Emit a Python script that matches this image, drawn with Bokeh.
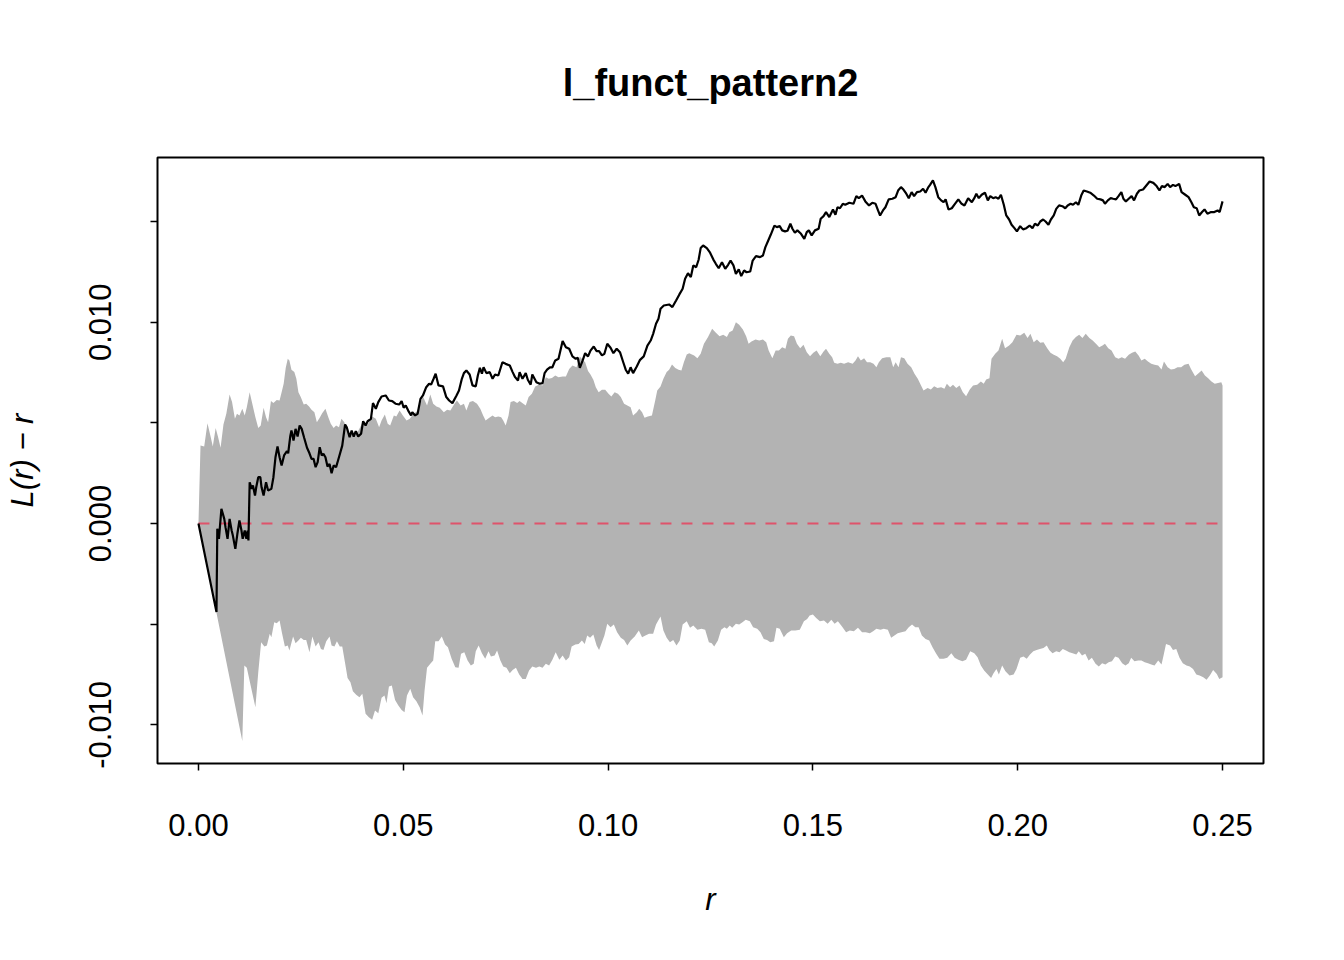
from bokeh.plotting import figure
from bokeh.models import FixedTicker, Range1d
from bokeh.embed import file_html
from bokeh.resources import INLINE

TITLE = "l_funct_pattern2"
X_LABEL = "r"
Y_LABEL = "L(r) \u2212 r"

# observed L(r) - r
line_r = [
    0.0000, 0.0044, 0.0046, 0.0050, 0.0056, 0.0063, 0.0066, 0.0071, 0.0076, 0.0081,
    0.0084, 0.0090, 0.0095, 0.0100, 0.0105, 0.0108, 0.0113, 0.0117, 0.0120, 0.0122,
    0.0125, 0.0130, 0.0133, 0.0138, 0.0141, 0.0146, 0.0151, 0.0154, 0.0159, 0.0165,
    0.0170, 0.0178, 0.0183, 0.0188, 0.0193, 0.0198, 0.0203, 0.0209, 0.0216, 0.0219,
    0.0224, 0.0227, 0.0232, 0.0237, 0.0242, 0.0247, 0.0252, 0.0258, 0.0265, 0.0271,
    0.0276, 0.0281, 0.0286, 0.0291, 0.0296, 0.0301, 0.0305, 0.0310, 0.0315, 0.0320,
    0.0325, 0.0330, 0.0336, 0.0343, 0.0351, 0.0358, 0.0362, 0.0369, 0.0374, 0.0379,
    0.0384, 0.0390, 0.0397, 0.0402, 0.0408, 0.0413, 0.0421, 0.0426, 0.0433, 0.0439,
    0.0447, 0.0457, 0.0465, 0.0473, 0.0481, 0.0490, 0.0496, 0.0501, 0.0506, 0.0512,
    0.0519, 0.0522, 0.0529, 0.0535, 0.0542, 0.0548, 0.0556, 0.0563, 0.0568, 0.0574,
    0.0579, 0.0586, 0.0597, 0.0605, 0.0612, 0.0620, 0.0630, 0.0636, 0.0643, 0.0648,
    0.0654, 0.0662, 0.0669, 0.0677, 0.0682, 0.0687, 0.0692, 0.0696, 0.0703, 0.0711,
    0.0718, 0.0724, 0.0732, 0.0742, 0.0750, 0.0760, 0.0767, 0.0773, 0.0780, 0.0784,
    0.0791, 0.0799, 0.0804, 0.0811, 0.0815, 0.0825, 0.0833, 0.0840, 0.0845, 0.0851,
    0.0858, 0.0864, 0.0871, 0.0879, 0.0889, 0.0897, 0.0905, 0.0913, 0.0921, 0.0926,
    0.0931, 0.0938, 0.0944, 0.0951, 0.0957, 0.0965, 0.0972, 0.0978, 0.0985, 0.0991,
    0.0998, 0.1006, 0.1013, 0.1021, 0.1029, 0.1037, 0.1043, 0.1049, 0.1055, 0.1061,
    0.1070, 0.1078, 0.1087, 0.1096, 0.1104, 0.1110, 0.1117, 0.1123, 0.1128, 0.1136,
    0.1149, 0.1157, 0.1166, 0.1174, 0.1182, 0.1188, 0.1195, 0.1202, 0.1208, 0.1215,
    0.1221, 0.1226, 0.1232, 0.1241, 0.1249, 0.1257, 0.1263, 0.1270, 0.1278, 0.1286,
    0.1293, 0.1299, 0.1306, 0.1312, 0.1319, 0.1325, 0.1332, 0.1338, 0.1347, 0.1353,
    0.1361, 0.1371, 0.1378, 0.1384, 0.1391, 0.1397, 0.1406, 0.1412, 0.1419, 0.1425,
    0.1432, 0.1438, 0.1445, 0.1450, 0.1456, 0.1462, 0.1471, 0.1479, 0.1485, 0.1490,
    0.1497, 0.1505, 0.1514, 0.1519, 0.1526, 0.1532, 0.1540, 0.1549, 0.1555, 0.1560,
    0.1566, 0.1573, 0.1579, 0.1589, 0.1599, 0.1606, 0.1612, 0.1620, 0.1628, 0.1637,
    0.1645, 0.1653, 0.1659, 0.1664, 0.1671, 0.1677, 0.1685, 0.1694, 0.1702, 0.1708,
    0.1715, 0.1721, 0.1728, 0.1734, 0.1741, 0.1747, 0.1754, 0.1762, 0.1769, 0.1775,
    0.1782, 0.1786, 0.1793, 0.1799, 0.1806, 0.1813, 0.1819, 0.1824, 0.1831, 0.1839,
    0.1845, 0.1855, 0.1863, 0.1870, 0.1879, 0.1888, 0.1894, 0.1899, 0.1905, 0.1912,
    0.1920, 0.1927, 0.1933, 0.1940, 0.1946, 0.1953, 0.1959, 0.1966, 0.1972, 0.1979,
    0.1985, 0.1992, 0.1998, 0.2006, 0.2013, 0.2021, 0.2029, 0.2036, 0.2042, 0.2049,
    0.2055, 0.2062, 0.2068, 0.2075, 0.2081, 0.2088, 0.2094, 0.2101, 0.2109, 0.2116,
    0.2122, 0.2129, 0.2135, 0.2142, 0.2148, 0.2155, 0.2161, 0.2169, 0.2177, 0.2186,
    0.2194, 0.2202, 0.2208, 0.2213, 0.2220, 0.2227, 0.2233, 0.2240, 0.2246, 0.2253,
    0.2258, 0.2264, 0.2271, 0.2278, 0.2284, 0.2291, 0.2297, 0.2306, 0.2314, 0.2322,
    0.2331, 0.2339, 0.2346, 0.2352, 0.2359, 0.2366, 0.2372, 0.2379, 0.2385, 0.2394,
    0.2400, 0.2409, 0.2417, 0.2424, 0.2430, 0.2437, 0.2443, 0.2450, 0.2456, 0.2463,
    0.2472, 0.2480, 0.2488, 0.2493, 0.2500,
]
line_v = [
    0.00000, -0.00440, -0.00026, -0.00076, 0.00073, 0.00023, -0.00018, -0.00076, 0.00023, -0.00035,
    -0.00060, -0.00126, -0.00051, 0.00015, -0.00035, -0.00076, -0.00035, -0.00076, -0.00035, -0.00084,
    0.00205, 0.00172, 0.00189, 0.00139, 0.00180, 0.00230, 0.00230, 0.00180, 0.00139, 0.00205,
    0.00164, 0.00172, 0.00230, 0.00329, 0.00383, 0.00329, 0.00288, 0.00338, 0.00359, 0.00349,
    0.00432, 0.00462, 0.00412, 0.00470, 0.00432, 0.00487, 0.00470, 0.00426, 0.00376, 0.00349,
    0.00321, 0.00321, 0.00280, 0.00305, 0.00379, 0.00338, 0.00346, 0.00329, 0.00283, 0.00296,
    0.00250, 0.00288, 0.00280, 0.00329, 0.00387, 0.00492, 0.00478, 0.00429, 0.00462, 0.00432,
    0.00459, 0.00432, 0.00446, 0.00508, 0.00487, 0.00508, 0.00520, 0.00598, 0.00570, 0.00603,
    0.00631, 0.00636, 0.00611, 0.00608, 0.00595, 0.00591, 0.00608, 0.00575, 0.00586, 0.00561,
    0.00537, 0.00553, 0.00537, 0.00545, 0.00619, 0.00636, 0.00677, 0.00694, 0.00690, 0.00719,
    0.00744, 0.00686, 0.00681, 0.00628, 0.00611, 0.00598, 0.00636, 0.00661, 0.00719, 0.00747,
    0.00760, 0.00740, 0.00686, 0.00681, 0.00735, 0.00773, 0.00744, 0.00776, 0.00747, 0.00752,
    0.00719, 0.00740, 0.00735, 0.00801, 0.00793, 0.00785, 0.00752, 0.00727, 0.00710, 0.00752,
    0.00719, 0.00747, 0.00714, 0.00690, 0.00740, 0.00702, 0.00694, 0.00697, 0.00747, 0.00764,
    0.00776, 0.00776, 0.00810, 0.00818, 0.00906, 0.00876, 0.00868, 0.00830, 0.00818, 0.00823,
    0.00773, 0.00810, 0.00846, 0.00830, 0.00859, 0.00879, 0.00856, 0.00856, 0.00835, 0.00843,
    0.00893, 0.00873, 0.00846, 0.00868, 0.00851, 0.00801, 0.00764, 0.00744, 0.00776, 0.00747,
    0.00780, 0.00813, 0.00830, 0.00884, 0.00909, 0.00942, 0.00992, 0.01017, 0.01067, 0.01083,
    0.01088, 0.01075, 0.01108, 0.01138, 0.01166, 0.01216, 0.01243, 0.01224, 0.01282, 0.01273,
    0.01310, 0.01368, 0.01381, 0.01368, 0.01345, 0.01311, 0.01290, 0.01268, 0.01298, 0.01265,
    0.01285, 0.01306, 0.01282, 0.01240, 0.01262, 0.01229, 0.01257, 0.01248, 0.01252, 0.01306,
    0.01328, 0.01323, 0.01331, 0.01373, 0.01406, 0.01434, 0.01480, 0.01472, 0.01477, 0.01456,
    0.01451, 0.01454, 0.01489, 0.01464, 0.01444, 0.01456, 0.01439, 0.01414, 0.01447, 0.01456,
    0.01431, 0.01456, 0.01464, 0.01514, 0.01527, 0.01547, 0.01522, 0.01560, 0.01534, 0.01571,
    0.01566, 0.01588, 0.01583, 0.01593, 0.01588, 0.01626, 0.01616, 0.01629, 0.01600, 0.01580,
    0.01593, 0.01588, 0.01555, 0.01530, 0.01555, 0.01571, 0.01610, 0.01613, 0.01621, 0.01654,
    0.01671, 0.01659, 0.01638, 0.01616, 0.01646, 0.01626, 0.01646, 0.01649, 0.01663, 0.01643,
    0.01671, 0.01682, 0.01704, 0.01671, 0.01621, 0.01605, 0.01596, 0.01610, 0.01560, 0.01566,
    0.01583, 0.01610, 0.01588, 0.01580, 0.01616, 0.01596, 0.01616, 0.01638, 0.01616, 0.01633,
    0.01643, 0.01605, 0.01626, 0.01616, 0.01621, 0.01613, 0.01633, 0.01583, 0.01530, 0.01510,
    0.01484, 0.01467, 0.01451, 0.01477, 0.01461, 0.01467, 0.01480, 0.01467, 0.01489, 0.01480,
    0.01500, 0.01510, 0.01500, 0.01484, 0.01510, 0.01530, 0.01563, 0.01580, 0.01576, 0.01566,
    0.01580, 0.01588, 0.01583, 0.01596, 0.01583, 0.01629, 0.01654, 0.01649, 0.01643, 0.01629,
    0.01613, 0.01610, 0.01605, 0.01588, 0.01605, 0.01616, 0.01613, 0.01610, 0.01626, 0.01646,
    0.01613, 0.01600, 0.01613, 0.01626, 0.01605, 0.01638, 0.01654, 0.01659, 0.01679, 0.01699,
    0.01692, 0.01676, 0.01654, 0.01676, 0.01671, 0.01687, 0.01671, 0.01682, 0.01676, 0.01687,
    0.01646, 0.01633, 0.01621, 0.01596, 0.01571, 0.01566, 0.01530, 0.01547, 0.01560, 0.01539,
    0.01547, 0.01547, 0.01555, 0.01547, 0.01600,
]

# upper envelope (hi)
hi_r = [
    0.0000, 0.0005, 0.0014, 0.0022, 0.0030, 0.0035, 0.0042, 0.0048, 0.0054, 0.0061,
    0.0068, 0.0076, 0.0082, 0.0089, 0.0094, 0.0100, 0.0107, 0.0113, 0.0118, 0.0125,
    0.0131, 0.0139, 0.0146, 0.0152, 0.0159, 0.0165, 0.0170, 0.0177, 0.0183, 0.0191,
    0.0198, 0.0203, 0.0208, 0.0213, 0.0218, 0.0222, 0.0227, 0.0234, 0.0239, 0.0244,
    0.0250, 0.0257, 0.0263, 0.0270, 0.0276, 0.0283, 0.0289, 0.0296, 0.0302, 0.0310,
    0.0317, 0.0323, 0.0330, 0.0336, 0.0343, 0.0349, 0.0356, 0.0366, 0.0377, 0.0390,
    0.0402, 0.0413, 0.0424, 0.0433, 0.0441, 0.0447, 0.0455, 0.0462, 0.0468, 0.0477,
    0.0483, 0.0491, 0.0499, 0.0508, 0.0516, 0.0525, 0.0534, 0.0540, 0.0548, 0.0558,
    0.0566, 0.0573, 0.0581, 0.0589, 0.0599, 0.0607, 0.0615, 0.0625, 0.0631, 0.0640,
    0.0648, 0.0654, 0.0662, 0.0670, 0.0680, 0.0688, 0.0695, 0.0701, 0.0710, 0.0718,
    0.0724, 0.0732, 0.0739, 0.0744, 0.0750, 0.0757, 0.0762, 0.0770, 0.0778, 0.0784,
    0.0793, 0.0799, 0.0806, 0.0814, 0.0822, 0.0832, 0.0840, 0.0848, 0.0855, 0.0863,
    0.0871, 0.0879, 0.0889, 0.0897, 0.0905, 0.0913, 0.0923, 0.0931, 0.0938, 0.0944,
    0.0951, 0.0957, 0.0964, 0.0970, 0.0977, 0.0985, 0.0993, 0.1001, 0.1008, 0.1016,
    0.1024, 0.1031, 0.1039, 0.1047, 0.1055, 0.1061, 0.1070, 0.1076, 0.1083, 0.1089,
    0.1097, 0.1107, 0.1115, 0.1120, 0.1128, 0.1135, 0.1143, 0.1149, 0.1156, 0.1164,
    0.1172, 0.1179, 0.1185, 0.1192, 0.1198, 0.1210, 0.1218, 0.1226, 0.1234, 0.1244,
    0.1254, 0.1262, 0.1272, 0.1281, 0.1290, 0.1296, 0.1304, 0.1312, 0.1320, 0.1329,
    0.1337, 0.1343, 0.1350, 0.1360, 0.1369, 0.1378, 0.1386, 0.1392, 0.1401, 0.1409,
    0.1417, 0.1425, 0.1433, 0.1439, 0.1446, 0.1454, 0.1461, 0.1469, 0.1477, 0.1485,
    0.1493, 0.1501, 0.1509, 0.1518, 0.1526, 0.1532, 0.1540, 0.1547, 0.1552, 0.1560,
    0.1568, 0.1576, 0.1586, 0.1597, 0.1604, 0.1610, 0.1617, 0.1625, 0.1632, 0.1640,
    0.1648, 0.1655, 0.1661, 0.1669, 0.1679, 0.1689, 0.1696, 0.1702, 0.1709, 0.1715,
    0.1723, 0.1731, 0.1740, 0.1748, 0.1756, 0.1764, 0.1770, 0.1780, 0.1788, 0.1796,
    0.1804, 0.1813, 0.1821, 0.1827, 0.1835, 0.1842, 0.1850, 0.1858, 0.1866, 0.1874,
    0.1883, 0.1891, 0.1901, 0.1910, 0.1917, 0.1923, 0.1931, 0.1936, 0.1945, 0.1953,
    0.1962, 0.1969, 0.1979, 0.1987, 0.1997, 0.2006, 0.2016, 0.2024, 0.2031, 0.2039,
    0.2047, 0.2055, 0.2063, 0.2072, 0.2080, 0.2088, 0.2096, 0.2104, 0.2111, 0.2117,
    0.2126, 0.2134, 0.2142, 0.2150, 0.2158, 0.2166, 0.2175, 0.2183, 0.2191, 0.2199,
    0.2207, 0.2213, 0.2221, 0.2229, 0.2238, 0.2246, 0.2254, 0.2262, 0.2271, 0.2279,
    0.2287, 0.2295, 0.2302, 0.2310, 0.2318, 0.2326, 0.2334, 0.2343, 0.2351, 0.2357,
    0.2366, 0.2374, 0.2382, 0.2390, 0.2399, 0.2407, 0.2417, 0.2423, 0.2433, 0.2440,
    0.2449, 0.2457, 0.2465, 0.2473, 0.2481, 0.2489, 0.2497, 0.2500,
]
hi_v = [
    0.00000, 0.00387, 0.00383, 0.00498, 0.00429, 0.00383, 0.00475, 0.00429, 0.00376, 0.00492,
    0.00545, 0.00641, 0.00603, 0.00520, 0.00545, 0.00537, 0.00570, 0.00537, 0.00578, 0.00652,
    0.00598, 0.00528, 0.00475, 0.00487, 0.00575, 0.00528, 0.00503, 0.00608, 0.00598, 0.00614,
    0.00611, 0.00652, 0.00694, 0.00773, 0.00818, 0.00810, 0.00764, 0.00752, 0.00719, 0.00652,
    0.00627, 0.00591, 0.00595, 0.00581, 0.00565, 0.00553, 0.00503, 0.00525, 0.00548, 0.00570,
    0.00528, 0.00495, 0.00475, 0.00487, 0.00478, 0.00520, 0.00503, 0.00442, 0.00442, 0.00459,
    0.00508, 0.00492, 0.00532, 0.00520, 0.00478, 0.00512, 0.00541, 0.00495, 0.00487, 0.00537,
    0.00532, 0.00561, 0.00537, 0.00512, 0.00520, 0.00545, 0.00558, 0.00586, 0.00631, 0.00586,
    0.00641, 0.00595, 0.00581, 0.00575, 0.00553, 0.00565, 0.00561, 0.00595, 0.00611, 0.00586,
    0.00595, 0.00561, 0.00603, 0.00608, 0.00595, 0.00570, 0.00537, 0.00512, 0.00525, 0.00537,
    0.00528, 0.00532, 0.00528, 0.00512, 0.00487, 0.00537, 0.00603, 0.00608, 0.00598, 0.00608,
    0.00595, 0.00586, 0.00628, 0.00644, 0.00681, 0.00690, 0.00686, 0.00727, 0.00719, 0.00723,
    0.00735, 0.00727, 0.00730, 0.00730, 0.00768, 0.00785, 0.00776, 0.00830, 0.00813, 0.00801,
    0.00757, 0.00740, 0.00714, 0.00677, 0.00652, 0.00664, 0.00664, 0.00644, 0.00631, 0.00652,
    0.00644, 0.00628, 0.00595, 0.00586, 0.00578, 0.00537, 0.00553, 0.00570, 0.00553, 0.00525,
    0.00532, 0.00537, 0.00611, 0.00661, 0.00681, 0.00719, 0.00752, 0.00764, 0.00790, 0.00773,
    0.00764, 0.00760, 0.00801, 0.00840, 0.00846, 0.00835, 0.00821, 0.00843, 0.00893, 0.00926,
    0.00967, 0.00950, 0.00930, 0.00937, 0.00926, 0.00950, 0.00959, 0.01000, 0.00987, 0.00964,
    0.00930, 0.00893, 0.00904, 0.00914, 0.00909, 0.00914, 0.00900, 0.00859, 0.00821, 0.00859,
    0.00859, 0.00876, 0.00868, 0.00918, 0.00934, 0.00930, 0.00893, 0.00871, 0.00888, 0.00851,
    0.00831, 0.00848, 0.00859, 0.00831, 0.00854, 0.00868, 0.00843, 0.00826, 0.00798, 0.00793,
    0.00798, 0.00793, 0.00801, 0.00793, 0.00810, 0.00831, 0.00810, 0.00821, 0.00801, 0.00801,
    0.00793, 0.00776, 0.00801, 0.00821, 0.00826, 0.00826, 0.00776, 0.00801, 0.00776, 0.00826,
    0.00821, 0.00793, 0.00776, 0.00744, 0.00719, 0.00686, 0.00661, 0.00673, 0.00666, 0.00682,
    0.00673, 0.00677, 0.00669, 0.00694, 0.00677, 0.00689, 0.00673, 0.00686, 0.00652, 0.00632,
    0.00666, 0.00686, 0.00689, 0.00705, 0.00694, 0.00715, 0.00722, 0.00818, 0.00843, 0.00859,
    0.00918, 0.00871, 0.00884, 0.00900, 0.00937, 0.00934, 0.00947, 0.00922, 0.00942, 0.00900,
    0.00914, 0.00898, 0.00900, 0.00871, 0.00848, 0.00838, 0.00831, 0.00818, 0.00801, 0.00818,
    0.00876, 0.00909, 0.00926, 0.00937, 0.00922, 0.00942, 0.00922, 0.00909, 0.00893, 0.00876,
    0.00884, 0.00893, 0.00871, 0.00859, 0.00826, 0.00818, 0.00826, 0.00818, 0.00838, 0.00848,
    0.00854, 0.00835, 0.00810, 0.00818, 0.00805, 0.00793, 0.00788, 0.00785, 0.00765, 0.00805,
    0.00776, 0.00765, 0.00768, 0.00776, 0.00776, 0.00788, 0.00793, 0.00768, 0.00732, 0.00744,
    0.00760, 0.00735, 0.00722, 0.00705, 0.00694, 0.00698, 0.00702, 0.00686,
]

# lower envelope (lo)
lo_r = [
    0.0000, 0.0107, 0.0112, 0.0118, 0.0139, 0.0146, 0.0153, 0.0161, 0.0167, 0.0174,
    0.0178, 0.0185, 0.0191, 0.0198, 0.0204, 0.0211, 0.0218, 0.0222, 0.0231, 0.0237,
    0.0244, 0.0250, 0.0257, 0.0263, 0.0271, 0.0278, 0.0286, 0.0293, 0.0299, 0.0305,
    0.0312, 0.0320, 0.0325, 0.0332, 0.0338, 0.0345, 0.0351, 0.0358, 0.0364, 0.0371,
    0.0377, 0.0385, 0.0393, 0.0400, 0.0408, 0.0416, 0.0424, 0.0431, 0.0439, 0.0447,
    0.0454, 0.0459, 0.0465, 0.0472, 0.0480, 0.0488, 0.0496, 0.0503, 0.0509, 0.0517,
    0.0524, 0.0532, 0.0540, 0.0547, 0.0552, 0.0558, 0.0566, 0.0573, 0.0578, 0.0586,
    0.0594, 0.0602, 0.0609, 0.0618, 0.0627, 0.0635, 0.0641, 0.0649, 0.0657, 0.0665,
    0.0672, 0.0677, 0.0684, 0.0692, 0.0700, 0.0708, 0.0714, 0.0723, 0.0729, 0.0737,
    0.0744, 0.0752, 0.0760, 0.0767, 0.0775, 0.0783, 0.0791, 0.0799, 0.0807, 0.0815,
    0.0824, 0.0832, 0.0840, 0.0848, 0.0856, 0.0864, 0.0872, 0.0881, 0.0889, 0.0897,
    0.0905, 0.0911, 0.0920, 0.0928, 0.0936, 0.0943, 0.0949, 0.0956, 0.0964, 0.0972,
    0.0978, 0.0985, 0.0991, 0.0998, 0.1006, 0.1014, 0.1022, 0.1031, 0.1039, 0.1047,
    0.1055, 0.1065, 0.1075, 0.1083, 0.1091, 0.1100, 0.1110, 0.1117, 0.1128, 0.1135,
    0.1143, 0.1151, 0.1159, 0.1167, 0.1175, 0.1182, 0.1192, 0.1200, 0.1208, 0.1218,
    0.1228, 0.1237, 0.1246, 0.1253, 0.1259, 0.1268, 0.1276, 0.1284, 0.1290, 0.1297,
    0.1303, 0.1312, 0.1320, 0.1328, 0.1336, 0.1346, 0.1354, 0.1364, 0.1372, 0.1380,
    0.1388, 0.1396, 0.1405, 0.1411, 0.1419, 0.1429, 0.1437, 0.1447, 0.1457, 0.1468,
    0.1478, 0.1486, 0.1492, 0.1500, 0.1508, 0.1517, 0.1527, 0.1536, 0.1545, 0.1553,
    0.1561, 0.1571, 0.1581, 0.1590, 0.1600, 0.1610, 0.1620, 0.1629, 0.1639, 0.1647,
    0.1655, 0.1665, 0.1673, 0.1683, 0.1691, 0.1699, 0.1707, 0.1716, 0.1726, 0.1734,
    0.1742, 0.1750, 0.1758, 0.1766, 0.1775, 0.1784, 0.1792, 0.1801, 0.1809, 0.1819,
    0.1828, 0.1838, 0.1846, 0.1855, 0.1865, 0.1874, 0.1884, 0.1894, 0.1902, 0.1910,
    0.1918, 0.1927, 0.1935, 0.1941, 0.1948, 0.1954, 0.1962, 0.1970, 0.1980, 0.1990,
    0.1997, 0.2006, 0.2014, 0.2022, 0.2030, 0.2038, 0.2046, 0.2054, 0.2063, 0.2071,
    0.2077, 0.2085, 0.2094, 0.2102, 0.2110, 0.2118, 0.2126, 0.2134, 0.2143, 0.2149,
    0.2157, 0.2165, 0.2173, 0.2181, 0.2190, 0.2198, 0.2206, 0.2214, 0.2222, 0.2230,
    0.2238, 0.2246, 0.2255, 0.2263, 0.2271, 0.2277, 0.2285, 0.2294, 0.2302, 0.2310,
    0.2318, 0.2326, 0.2334, 0.2343, 0.2351, 0.2356, 0.2362, 0.2372, 0.2379, 0.2387,
    0.2395, 0.2403, 0.2412, 0.2420, 0.2428, 0.2436, 0.2444, 0.2453, 0.2461, 0.2469,
    0.2477, 0.2486, 0.2492, 0.2500,
]
lo_v = [
    0.00000, -0.01080, -0.00705, -0.00717, -0.00913, -0.00739, -0.00590, -0.00611, -0.00606, -0.00548,
    -0.00565, -0.00490, -0.00495, -0.00482, -0.00545, -0.00611, -0.00606, -0.00631, -0.00561, -0.00595,
    -0.00581, -0.00568, -0.00578, -0.00578, -0.00639, -0.00561, -0.00611, -0.00590, -0.00623, -0.00628,
    -0.00585, -0.00561, -0.00606, -0.00611, -0.00585, -0.00611, -0.00611, -0.00694, -0.00767, -0.00788,
    -0.00833, -0.00850, -0.00863, -0.00846, -0.00945, -0.00962, -0.00975, -0.00929, -0.00942, -0.00866,
    -0.00854, -0.00893, -0.00810, -0.00805, -0.00876, -0.00904, -0.00926, -0.00937, -0.00854, -0.00821,
    -0.00863, -0.00883, -0.00913, -0.00954, -0.00830, -0.00717, -0.00697, -0.00681, -0.00585, -0.00585,
    -0.00561, -0.00601, -0.00614, -0.00672, -0.00714, -0.00717, -0.00647, -0.00639, -0.00681, -0.00705,
    -0.00697, -0.00634, -0.00606, -0.00644, -0.00672, -0.00634, -0.00661, -0.00656, -0.00631, -0.00681,
    -0.00710, -0.00717, -0.00744, -0.00727, -0.00717, -0.00750, -0.00772, -0.00772, -0.00730, -0.00710,
    -0.00717, -0.00710, -0.00717, -0.00697, -0.00705, -0.00677, -0.00639, -0.00677, -0.00656, -0.00681,
    -0.00664, -0.00611, -0.00601, -0.00598, -0.00581, -0.00598, -0.00556, -0.00568, -0.00551, -0.00606,
    -0.00628, -0.00590, -0.00556, -0.00498, -0.00515, -0.00502, -0.00540, -0.00568, -0.00578, -0.00606,
    -0.00581, -0.00561, -0.00532, -0.00565, -0.00556, -0.00548, -0.00548, -0.00502, -0.00462, -0.00532,
    -0.00568, -0.00590, -0.00578, -0.00606, -0.00581, -0.00502, -0.00485, -0.00518, -0.00507, -0.00528,
    -0.00523, -0.00528, -0.00590, -0.00595, -0.00611, -0.00581, -0.00528, -0.00515, -0.00523, -0.00507,
    -0.00518, -0.00498, -0.00502, -0.00490, -0.00478, -0.00485, -0.00515, -0.00523, -0.00540, -0.00573,
    -0.00578, -0.00590, -0.00585, -0.00518, -0.00523, -0.00565, -0.00545, -0.00532, -0.00532, -0.00528,
    -0.00485, -0.00474, -0.00457, -0.00452, -0.00469, -0.00485, -0.00482, -0.00498, -0.00478, -0.00498,
    -0.00485, -0.00512, -0.00540, -0.00532, -0.00535, -0.00518, -0.00540, -0.00540, -0.00545, -0.00535,
    -0.00523, -0.00528, -0.00523, -0.00528, -0.00568, -0.00556, -0.00545, -0.00540, -0.00535, -0.00515,
    -0.00502, -0.00515, -0.00515, -0.00556, -0.00573, -0.00581, -0.00614, -0.00647, -0.00672, -0.00672,
    -0.00667, -0.00644, -0.00667, -0.00677, -0.00684, -0.00677, -0.00634, -0.00644, -0.00664, -0.00705,
    -0.00730, -0.00750, -0.00767, -0.00744, -0.00722, -0.00750, -0.00705, -0.00734, -0.00755, -0.00750,
    -0.00722, -0.00667, -0.00661, -0.00672, -0.00651, -0.00634, -0.00628, -0.00623, -0.00618, -0.00606,
    -0.00628, -0.00644, -0.00634, -0.00639, -0.00623, -0.00631, -0.00639, -0.00644, -0.00651, -0.00634,
    -0.00656, -0.00647, -0.00681, -0.00667, -0.00697, -0.00710, -0.00694, -0.00700, -0.00689, -0.00684,
    -0.00661, -0.00667, -0.00694, -0.00705, -0.00694, -0.00667, -0.00684, -0.00681, -0.00681, -0.00689,
    -0.00694, -0.00700, -0.00705, -0.00681, -0.00700, -0.00656, -0.00598, -0.00606, -0.00628, -0.00623,
    -0.00667, -0.00694, -0.00705, -0.00710, -0.00722, -0.00750, -0.00755, -0.00764, -0.00776, -0.00755,
    -0.00727, -0.00747, -0.00772, -0.00764,
]

# theoretical value (Poisson)
theo_r = [0.0, 0.25]
theo_v = [0.0, 0.0]

x_ticks = [0.0, 0.05, 0.10, 0.15, 0.20, 0.25]
x_tick_labels = ["0.00", "0.05", "0.10", "0.15", "0.20", "0.25"]
y_ticks = [-0.010, -0.005, 0.0, 0.005, 0.010, 0.015]
y_tick_labels = ["-0.010", "", "0.000", "", "0.010", ""]

FONT = "Liberation Sans"

p = figure(
    width=1328, height=944,
    x_range=Range1d(-0.01, 0.26), y_range=Range1d(-0.01192, 0.01818),
    output_backend="svg", toolbar_location=None,
    min_border_left=157, min_border_right=65,
    min_border_top=157, min_border_bottom=181,
    title=TITLE,
)
p.grid.visible = False
p.background_fill_color = "white"
p.border_fill_color = "white"
p.outline_line_color = "black"
p.outline_line_width = 2

p.title.align = "center"
p.title.text_font = FONT
p.title.text_font_size = "38px"
p.title.text_font_style = "bold"
p.title.text_color = "black"
p.title.standoff = 108

band_x = hi_r + lo_r[::-1]
band_y = hi_v + lo_v[::-1]
p.patch(band_x, band_y, fill_color="#B3B3B3", line_color=None)
p.line(theo_r, theo_v, line_color="#DF536B", line_width=2, line_dash="11 10")
p.line(line_r, line_v, line_color="black", line_width=2.2)

for ax in (p.xaxis[0], p.yaxis[0]):
    ax.axis_line_color = None
    ax.major_tick_in = 0
    ax.major_tick_out = 7
    ax.major_tick_line_width = 1.5
    ax.major_tick_line_color = "black"
    ax.minor_tick_line_color = None
    ax.major_label_text_font = FONT
    ax.major_label_text_font_size = "31px"
    ax.major_label_text_color = "black"
    ax.axis_label_text_font = FONT
    ax.axis_label_text_font_size = "31px"
    ax.axis_label_text_font_style = "italic"
    ax.axis_label_text_color = "black"

xa = p.xaxis[0]
xa.ticker = FixedTicker(ticks=x_ticks)
xa.major_label_overrides = {t: s for t, s in zip(x_ticks, x_tick_labels)}
xa.major_label_standoff = 43
xa.axis_label = X_LABEL
xa.axis_label_standoff = 43

ya = p.yaxis[0]
ya.ticker = FixedTicker(ticks=y_ticks)
ya.major_label_overrides = {t: s for t, s in zip(y_ticks, y_tick_labels)}
ya.major_label_orientation = "vertical"
ya.major_label_standoff = 39
ya.axis_label = Y_LABEL
ya.axis_label_standoff = 47

open("out.html", "w").write(file_html(p, INLINE))
